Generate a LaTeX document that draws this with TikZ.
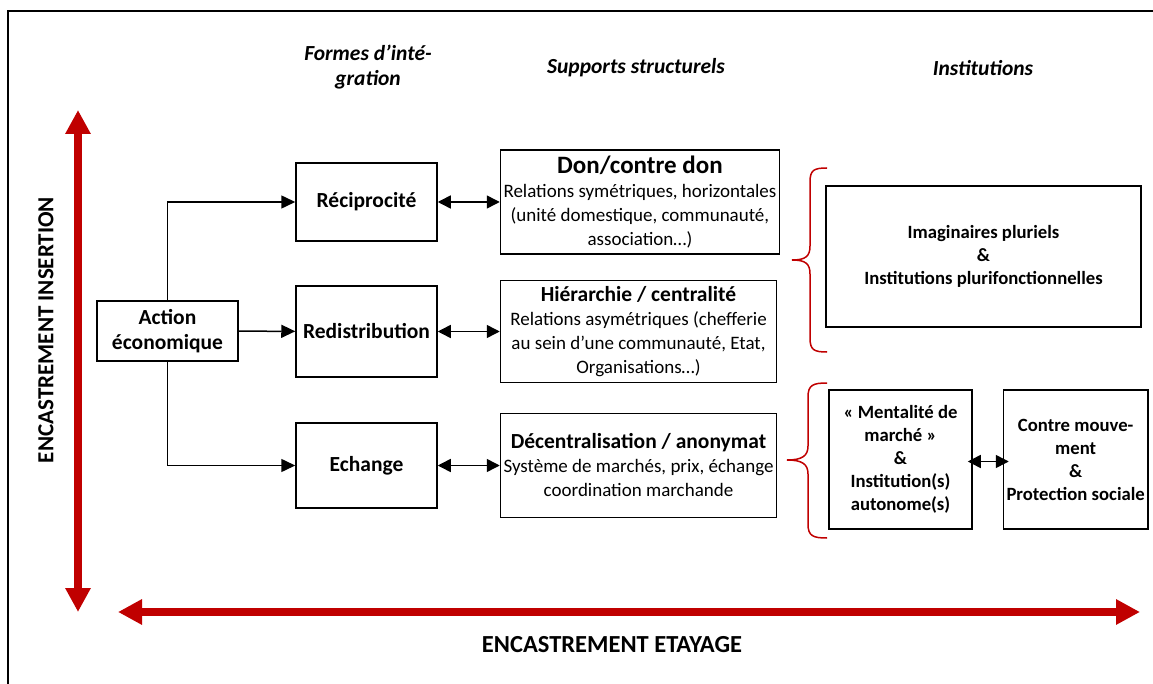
\documentclass[tikz,border=0pt]{standalone}
\usepackage{fontspec}
\setmainfont{Carlito}
\usetikzlibrary{positioning,arrows.meta}
\definecolor{rouge}{RGB}{192,0,0}
\tikzset{cadre/.style={draw,line width=1.5pt,align=center,inner sep=3pt}}
\tikzset{forme/.style={cadre,minimum width=141pt,font=\bfseries\fontsize{21.5}{25}\selectfont}}
\tikzset{support/.style={cadre,minimum width=276pt,minimum height=104pt,font=\fontsize{19}{24}\selectfont}}
\tikzset{institution/.style={cadre,font=\bfseries\fontsize{18.7}{23}\selectfont}}
\tikzset{titre/.style={align=center,font=\bfseries\itshape\fontsize{21.5}{25}\selectfont}}
\tikzset{axe/.style={font=\bfseries\fontsize{23}{27}\selectfont}}
\tikzset{fleche/.style={line width=1.5pt,-{Triangle[length=14pt,width=13pt]}}}
\tikzset{lien/.style={line width=1.5pt,{Triangle[length=13pt,width=13pt]}-{Triangle[length=13pt,width=13pt]}}}
\tikzset{etai/.style={draw=rouge,line width=8pt,{Triangle[length=24pt,width=24pt]}-{Triangle[length=24pt,width=24pt]}}}
\tikzset{accolade/.style={draw=rouge,line width=1.5pt}}
\newcommand{\soustitre}[2][21.5]{{\bfseries\fontsize{#1}{26}\selectfont #2}}

\begin{document}
\begin{tikzpicture}[x=1pt,y=-1pt]
		\useasboundingbox (0,0) rectangle (1153,684);
		\draw[line width=1.2pt] (8,684) -- (8,11) -- (1153,11);
		% titres des colonnes
		\node[titre] (t1) at (368,67) {Formes d’inté-\\gration};
		\node[titre] (t2) at (636,68) {Supports structurels};
		\node[titre] (t3) at (983,68) {Institutions};
		% axes
		\coordinate (haut) at (78,110);
		\coordinate (bas) at (78,612);
		\coordinate (gauche) at (118,612);
		\coordinate (droite) at (1140,612);
		\draw[etai] (haut) -- (bas);
		\draw[etai] (gauche) -- (droite);
		\node[axe,rotate=90] (insertion) at (46,330) {ENCASTREMENT INSERTION};
		\node[axe,font=\bfseries\fontsize{24.5}{28}\selectfont] (etayage) at (612,645) {ENCASTREMENT ETAYAGE};
		% formes d'integration
		\node[forme,minimum height=60pt] (action) at (167.5,331) {Action\\économique};
		\node[forme,minimum height=78pt] (recip) at (366.5,202) {Réciprocité};
		\node[forme,minimum height=91pt] (redis) at (366.5,331.5) {Redistribution};
		\node[forme,minimum height=85pt] (echange) at (366.5,465.5) {Echange};
		\draw[fleche] (action.north) |- (recip);
		\draw[fleche] (action) -- (redis);
		\draw[fleche] (action.south) |- (echange);
		% supports structurels
		\node[support,right=62pt of recip] (don) {\soustitre[25]{Don/contre don}\\Relations symétriques, horizontales\\(unité domestique, communauté,\\association…)};
		\node[support,minimum height=102pt,right=62pt of redis] (hier) {\soustitre{Hiérarchie / centralité}\\Relations asymétriques (chefferie\\au sein d’une communauté, Etat,\\Organisations…)};
		\node[support,right=62pt of echange] (decent) {\soustitre{Décentralisation / anonymat}\\Système de marchés, prix, échange\\coordination marchande};
		\draw[lien] (recip) -- (don);
		\draw[lien] (redis) -- (hier);
		\draw[lien] (echange) -- (decent);
		% institutions
		\node[institution,minimum width=315pt,minimum height=141pt] (imag) at (983.5,256.5) {Imaginaires pluriels\\\&\\Institutions plurifonctionnelles};
		\node[institution,minimum width=143pt,minimum height=139pt] (mental) at (900.5,459.5) {«~Mentalité de\\marché~»\\\&\\Institution(s)\\autonome(s)};
		\node[institution,minimum width=143pt,minimum height=139pt,right=30pt of mental] (contre) {Contre mouve-\\ment\\\&\\Protection sociale};
		\draw[lien,shorten <=-5pt,shorten >=-6pt] ([yshift=-2pt]mental.east) -- ([yshift=-2pt]contre.west);
		% accolades
		\draw[accolade] (827,168) .. controls (814,168) and (810,170) .. (810,182) -- (810,246) .. controls (810,256) and (806,260) .. (792,260) .. controls (806,260) and (810,264) .. (810,274) -- (810,338) .. controls (810,350) and (814,352) .. (827,352);
		\draw[accolade] (827,383) .. controls (813,383) and (808,385) .. (808,397) -- (808,446) .. controls (808,456) and (802,460) .. (787,460) .. controls (802,460) and (808,464) .. (808,474) -- (808,524) .. controls (808,536) and (813,538) .. (827,538);
	\end{tikzpicture}
\end{document}
